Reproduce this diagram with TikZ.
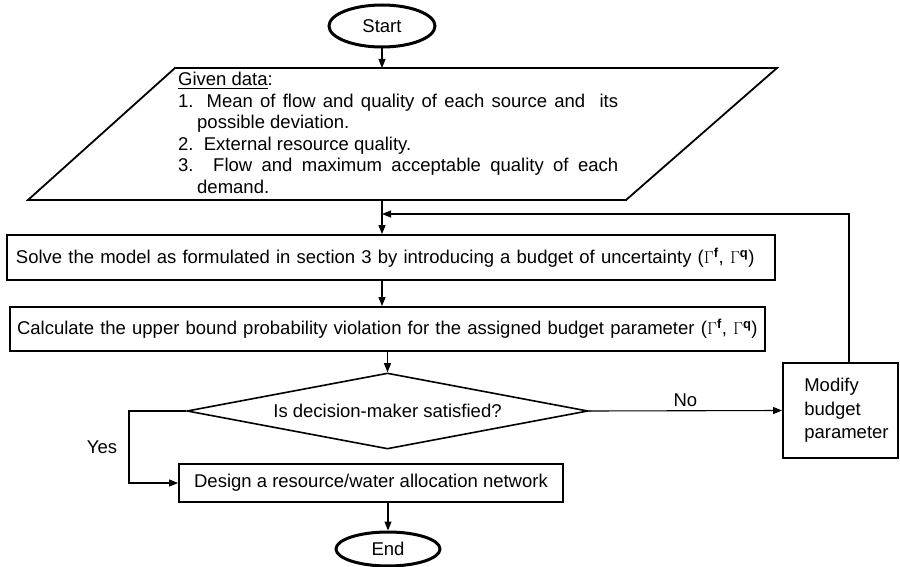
\documentclass[tikz,border=0pt]{standalone}
\usepackage{amsmath}
\usepackage{fontspec}
\setmainfont{Liberation Sans}
\usetikzlibrary{arrows.meta}
\usetikzlibrary{positioning}
\usetikzlibrary{shapes.geometric}
\tikzset{startstop/.style = {draw, ellipse, line width=3pt, inner sep=0,
                             minimum width=106pt, minimum height=42pt}}
\tikzset{process/.style = {draw, rectangle, line width=1.8pt, align=left,
                           inner ysep=0, inner xsep=8pt}}
\tikzset{decision/.style = {draw, diamond, aspect=5.3, line width=1.6pt, inner sep=0,
                            minimum width=401pt, minimum height=76pt}}
\tikzset{link/.style = {-{Triangle[length=9pt, width=7pt]}, line width=1.1pt}}

\begin{document}
\begin{tikzpicture}[x=1pt, y=-1pt, font=\fontsize{18.5}{21.5}\selectfont]
      \useasboundingbox (0, 0) rectangle (900, 567);

      \node (start) [startstop] at (382, 26) {Start};

      % given data
      \coordinate (d1) at (175, 68);
      \coordinate (d2) at (777, 68);
      \coordinate (d3) at (626, 200);
      \coordinate (d4) at (28, 200);
      \draw [line width=1.8pt, line join=miter] (d1) -- (d2) -- (d3) -- (d4) -- cycle;
      \node (data) [anchor=north west, inner sep=0, text width=440pt, align=justify] at (178, 72)
        {\parindent=0pt \underline{Given data}:\par
         \hangindent=19pt \hangafter=1 1. Mean of flow and quality of each source and\ \ its\linebreak possible deviation.\par
         \hangindent=19pt \hangafter=1 2.\ \ External resource quality.\par
         \hangindent=19pt \hangafter=1 3. Flow and maximum acceptable quality of each\linebreak demand.\par};
      \coordinate (datatop) at (382, 68);
      \coordinate (databot) at (382, 200);

      \node (solve) [process, minimum width=768pt, minimum height=45pt, text width=750pt, inner xsep=9pt]
        at (391, 257.5) {Solve the model as formulated in section 3 by introducing a budget of uncertainty
                         ($\Gamma^{\mathbf{f}}$, $\Gamma^{\mathbf{q}}$)};
      \node (calc) [process, minimum width=755pt, minimum height=44pt, text width=741pt, inner xsep=7pt]
        at (387.5, 329) {Calculate the upper bound probability violation for the assigned budget parameter
                         ($\Gamma^{\mathbf{f}}$, $\Gamma^{\mathbf{q}}$)};
      \node (dec) [decision] at (387.5, 411) {Is decision-maker satisfied?};
      \node (modify) [process, minimum width=115pt, minimum height=95pt] at (840.5, 410.5) {};
      \node (modtext) [anchor=west, inner sep=0, align=left, font=\fontsize{18.5}{23.5}\selectfont]
        at ([xshift=22pt]modify.west) {Modify\\budget\\parameter};
      \node (design) [process, minimum width=384pt, minimum height=38pt] at (371, 483)
        {Design a resource/water allocation network};
      \node (end) [startstop, minimum width=104pt, minimum height=34pt] at (388, 549) {End};

      \coordinate (loop) at (849, 214);
      \coordinate (yes) at (129, 411);

      \draw [link] (start) -- (datatop);
      \draw [link] (databot) -- (databot |- solve.north);
      \draw [link] (databot |- solve.south) -- (databot |- calc.north);
      \draw [link] (calc.south -| dec.north) -- (dec.north);
      \draw [link] (dec.east) -- node (nolab) [above] {No} (modify.west);
      \draw [link] (dec.west) -- (yes) |- node (yeslab) [pos=0.25, left=8pt] {Yes} (design.west);
      \draw [link] (design.south -| end.north) -- (end.north);
      \draw [link] (modify.north -| loop) -- (loop) -- (loop -| databot);
    \end{tikzpicture}
\end{document}
